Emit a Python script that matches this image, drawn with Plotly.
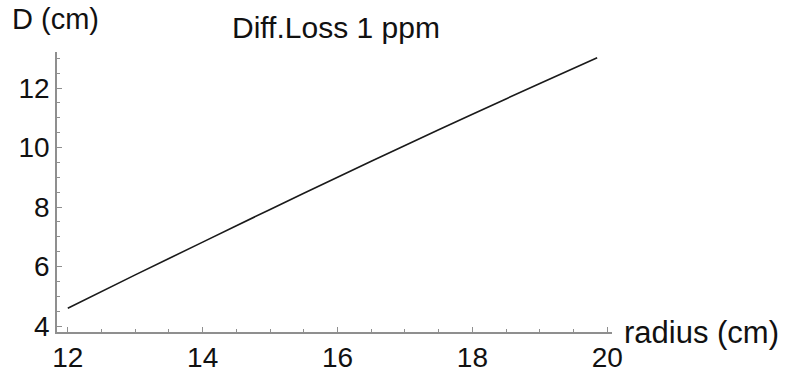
import plotly.graph_objects as go

# Data
radius_cm = [12, 13, 14, 15, 16, 17, 18, 19, 19.85]
D_cm = [4.6, 5.72, 6.82, 7.92, 9.0, 10.07, 11.12, 12.15, 13.02]

x_ticks = [12, 14, 16, 18, 20]
y_ticks = [4, 6, 8, 10, 12]

title_text = "Diff.Loss 1 ppm"
x_label = "radius (cm)"
y_label = "D (cm)"

FONT = "Liberation Sans, Arial, sans-serif"
AX = "#8f8f8f"

fig = go.Figure()
fig.add_trace(go.Scatter(x=radius_cm, y=D_cm, mode="lines",
                         line=dict(color="#1a1a1a", width=1.6, shape="spline", smoothing=0.6),
                         hoverinfo="skip", showlegend=False))

axis_common = dict(
    showgrid=False, zeroline=False, automargin=False,
    showline=True, linecolor=AX, linewidth=1.5,
    ticks="inside", ticklen=5, tickwidth=1, tickcolor=AX,
    tickfont=dict(family=FONT, size=28, color="#111"),
    minor=dict(ticks="inside", ticklen=3, tickwidth=1, tickcolor=AX, dtick=0.5),
)

fig.update_xaxes(range=[11.84, 20.07], tickvals=x_ticks, **axis_common)
fig.update_yaxes(range=[3.8, 13.21], tickvals=y_ticks, **axis_common)

fig.update_layout(
    width=789, height=374,
    margin=dict(l=57, r=177, t=52, b=42),
    paper_bgcolor="white", plot_bgcolor="white",
    font=dict(family=FONT, color="#111"),
    annotations=[
        dict(text=title_text, xref="paper", yref="paper", x=0.502, y=1.086,
             xanchor="center", yanchor="middle", showarrow=False,
             font=dict(family=FONT, size=30, color="#111")),
        dict(text=y_label, xref="paper", yref="paper", x=-0.084, y=1.118,
             xanchor="left", yanchor="middle", showarrow=False,
             font=dict(family=FONT, size=29, color="#111")),
        dict(text=x_label, xref="paper", yref="paper", x=1.018, y=0.0,
             xanchor="left", yanchor="middle", showarrow=False,
             font=dict(family=FONT, size=31, color="#111")),
    ],
)

fig.write_html("out.html", config={"displayModeBar": False},
               post_script="document.body.style.margin='0';document.body.style.padding='0';")
